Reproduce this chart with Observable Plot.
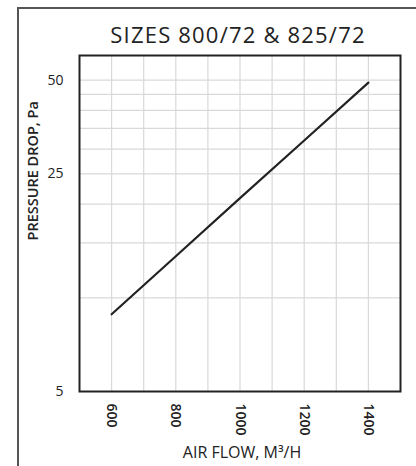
<!DOCTYPE html>
<html>
<head>
<meta charset="utf-8">
<script src="https://cdn.jsdelivr.net/npm/d3@7"></script>
<script src="https://cdn.jsdelivr.net/npm/@observablehq/plot@0.6"></script>
<style>
  html, body { margin: 0; padding: 0; background: #fff; }
  #wrap { position: relative; width: 416px; height: 466px; overflow: hidden; }
  #border { position: absolute; left: 17px; top: 7px; right: -4px; bottom: -4px;
            border-left: 2px solid #555; border-top: 2px solid #555; pointer-events: none; }
</style>
</head>
<body>
<div id="wrap"><div id="border"></div></div>
<script>
const title = "SIZES 800/72 & 825/72";
const xLabel = "AIR FLOW, M³/H";
const yLabel = "PRESSURE DROP, Pa";

const airflow = [600, 800, 1000, 1200, 1400];
const pressure = [8.85, 13.6, 20.9, 32.0, 49.1];

const xDomain = [500, 1500];
const yDomain = [5, 60];
const xTicks = [600, 800, 1000, 1200, 1400];
const xGrid = [600, 700, 800, 900, 1000, 1100, 1200, 1300, 1400];
const yTicks = [5, 25, 50];
const yGrid = [10, 15, 20, 25, 30, 35, 40, 45, 50];

const data = airflow.map((x, i) => ({x, y: pressure[i]}));

const chart = Plot.plot({
  width: 416,
  height: 466,
  marginLeft: 79,
  marginRight: 16,
  marginTop: 55,
  marginBottom: 75,
  style: {fontFamily: "'Open Sans', sans-serif", color: "#222", background: "transparent"},
  x: {domain: xDomain},
  y: {type: "log", domain: yDomain},
  marks: [
    Plot.gridX(xGrid, {stroke: "#d9d9d9", strokeOpacity: 1, strokeWidth: 1.2}),
    Plot.gridY(yGrid, {stroke: "#d9d9d9", strokeOpacity: 1, strokeWidth: 1.2}),
    Plot.axisX(xTicks, {tickSize: 0, tickPadding: 12, tickRotate: 90, fontSize: 14, fontWeight: 600, label: null, tickFormat: d => String(d)}),
    Plot.axisY(yTicks, {tickSize: 0, tickPadding: 16, fontSize: 14, label: null, tickFormat: d => String(d)}),
    Plot.line(data, {x: "x", y: "y", stroke: "#222", strokeWidth: 2.2}),
    Plot.frame({stroke: "#222", strokeWidth: 2}),
    Plot.text([title], {frameAnchor: "top", dy: -28, dx: -2, fontSize: 22, fill: "#222"}),
    Plot.text([yLabel], {frameAnchor: "left", rotate: -90, dx: -46, dy: 17, fontSize: 14.5, fontWeight: 600, fill: "#222"}),
    Plot.text([xLabel], {frameAnchor: "bottom", dy: 66, dx: 2, fontSize: 16, fill: "#222"})
  ]
});
d3.select(chart).selectAll("text").filter(function() { return this.textContent === title; })
  .style("letter-spacing", "1.2px");
document.getElementById("wrap").prepend(chart);
</script>
</body>
</html>
